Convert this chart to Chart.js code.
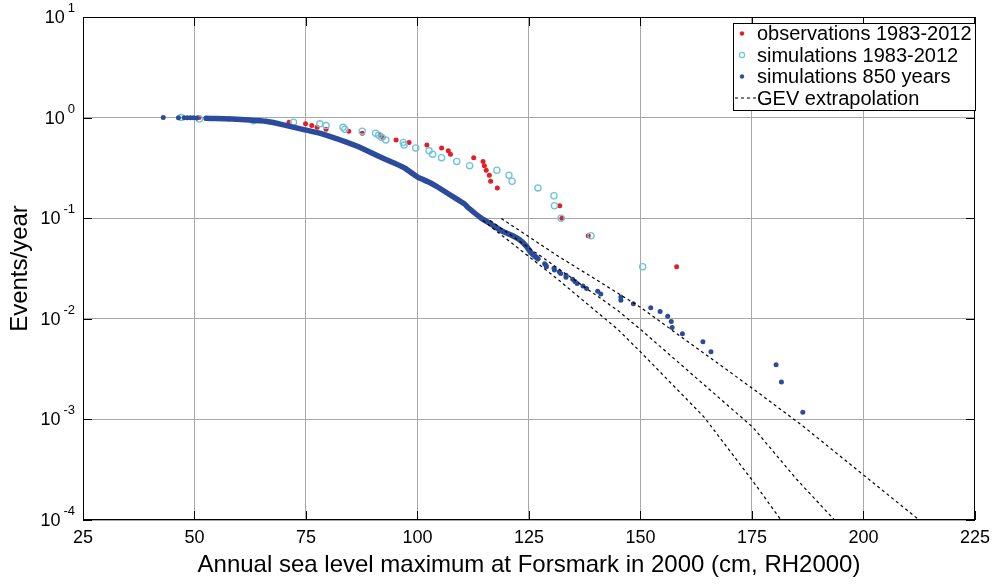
<!DOCTYPE html>
<html>
<head>
<meta charset="utf-8">
<script src="https://cdn.jsdelivr.net/npm/chart.js@4.4.0/dist/chart.umd.min.js"></script>
<style>
  html, body { margin: 0; padding: 0; background: #fff; }
  #wrap { width: 997px; height: 584px; position: relative; }
</style>
</head>
<body>
<div id="wrap"><canvas id="grafico"></canvas></div>
<script>
// axis ticks
var xTicks = [25, 50, 75, 100, 125, 150, 175, 200, 225];
var yTicks = [1e-4, 1e-3, 1e-2, 1e-1, 1, 10];
var yExp = ["-4", "-3", "-2", "-1", "0", "1"];

// observations 1983-2012 (cm, events/year)
var obsX = [158.1, 138.3, 132.4, 131.9, 117.9, 116.4, 116.1, 115.4, 115.0, 114.7,
  112.6, 107.4, 106.9, 105.4, 102.1, 98.1, 95.2, 92.3, 91.7, 87.6,
  84.6, 79.5, 77.5, 76.3, 74.9, 71.2, 64.5, 57.8, 51.0];
var obsY = [0.033, 0.067, 0.100, 0.133, 0.200, 0.233, 0.267, 0.300, 0.333, 0.367,
  0.400, 0.433, 0.467, 0.500, 0.533, 0.567, 0.600, 0.633, 0.667, 0.700,
  0.733, 0.767, 0.800, 0.833, 0.867, 0.900, 0.933, 0.967, 1.000];

// simulations 1983-2012
var sim30X = [150.5, 138.9, 132.2, 130.7, 130.6, 127.0, 121.2, 120.5, 117.8, 111.7,
  108.8, 105.4, 103.4, 102.6, 99.6, 97.0, 96.8, 92.9, 92.0, 91.3,
  90.6, 87.6, 83.7, 83.3, 79.5, 78.1, 72.2, 63.2, 51.1, 47.0];
var sim30Y = [0.033, 0.067, 0.100, 0.133, 0.167, 0.200, 0.233, 0.267, 0.300, 0.333,
  0.367, 0.400, 0.433, 0.467, 0.500, 0.533, 0.567, 0.600, 0.633, 0.667,
  0.700, 0.733, 0.767, 0.800, 0.833, 0.867, 0.900, 0.933, 0.967, 1.000];

// simulations 850 years: dense part of the curve
var denseX = [52.6, 54.8, 58.5, 62.3, 66.0, 69.7, 74.5, 78.6, 83.9, 86.8,
  91.3, 95.0, 97.3, 98.0, 99.5, 100.2, 102.5, 104.7, 107.7, 110.6,
  111.4, 114.4, 116.6, 118.8, 121.0, 122.9, 124.4, 125.5, 127.0];
var denseY = [0.984, 0.977, 0.970, 0.948, 0.919, 0.852, 0.760, 0.689, 0.574, 0.512,
  0.413, 0.349, 0.312, 0.296, 0.266, 0.254, 0.229, 0.202, 0.166, 0.138,
  0.127, 0.0993, 0.0866, 0.0750, 0.0680, 0.0610, 0.0527, 0.0453, 0.0395];

// simulations 850 years: single points (low end and tail)
var sim850X = [43.0, 46.4, 47.7, 48.4, 49.1, 49.8, 50.5,
  128.5, 128.8, 128.9, 130.6, 130.7, 131.8, 132.1, 133.3, 133.3, 134.8,
  135.3, 135.8, 137.1, 137.9, 140.4, 141.1, 145.6, 145.6, 148.4, 152.3,
  154.4, 156.1, 156.9, 157.1, 159.4, 164.0, 165.8, 180.4, 181.6, 186.4];
var sim850Y = [1.000, 0.9988, 0.9976, 0.9965, 0.9953, 0.9941, 0.9929,
  0.0353, 0.0341, 0.0329, 0.0318, 0.0306, 0.0294, 0.0282, 0.0271, 0.0259, 0.0247,
  0.0235, 0.0224, 0.0212, 0.0200, 0.0188, 0.0176, 0.0165, 0.0153, 0.0141, 0.0129,
  0.0118, 0.0106, 0.0094, 0.0082, 0.0071, 0.0059, 0.0047, 0.0035, 0.00235, 0.00118];

// GEV extrapolation, three curves
var gevUpX = [118.8, 131.5, 140.0, 150.0, 175.4, 186.4, 212.5];
var gevUpY = [0.0993, 0.042, 0.0246, 0.0130, 0.00199, 0.00086, 0.0001];
var gevMidX = [116.3, 144.9, 150.0, 175.2, 185.0, 193.5];
var gevMidY = [0.0948, 0.0121, 0.00785, 0.000835, 0.000254, 0.0001];
var gevLowX = [114.7, 131.5, 144.9, 150.0, 164.3, 175.4, 181.5];
var gevLowY = [0.0948, 0.0246, 0.00785, 0.00469, 0.00105, 0.000237, 0.0001];

var red = "#e41e26";
var cyan = "#6ec5dc";
var blue = "#2b4c9c";
var fonte = "'Liberation Sans', Arial, Helvetica, sans-serif";

function pares(xs, ys) {
  return xs.map(function (x, i) { return { x: x, y: ys[i] }; });
}

function gev(xs, ys) {
  return {
    label: "GEV extrapolation",
    data: pares(xs, ys),
    showLine: true,
    borderColor: "#000",
    borderWidth: 1.2,
    borderDash: [3, 3],
    pointRadius: 0,
    order: 1
  };
}

// frame, inside ticks, y labels with exponents, legend box
var moldura = {
  id: "moldura",
  afterDraw: function (chart) {
    var c = chart.ctx;
    var a = chart.chartArea;
    var sx = chart.scales.x, sy = chart.scales.y;
    c.save();
    c.strokeStyle = "#000";
    c.lineWidth = 1;
    c.strokeRect(a.left + 0.5, a.top + 0.5, a.right - a.left - 1, a.bottom - a.top - 1);
    c.beginPath();
    xTicks.forEach(function (v) {
      var px = Math.round(sx.getPixelForValue(v)) + 0.5;
      c.moveTo(px, a.bottom); c.lineTo(px, a.bottom - 9);
      c.moveTo(px, a.top); c.lineTo(px, a.top + 9);
    });
    yTicks.forEach(function (v) {
      var py = Math.round(sy.getPixelForValue(v)) + 0.5;
      c.moveTo(a.left, py); c.lineTo(a.left + 9, py);
      c.moveTo(a.right, py); c.lineTo(a.right - 9, py);
    });
    c.stroke();

    c.fillStyle = "#000";
    yTicks.forEach(function (v, i) {
      var py = sy.getPixelForValue(v);
      c.font = "13px " + fonte;
      var w = c.measureText(yExp[i]).width;
      var supX = 75 - w;
      c.textAlign = "left";
      c.textBaseline = "alphabetic";
      c.fillText(yExp[i], supX, py - 5);
      c.font = "18px " + fonte;
      c.textAlign = "right";
      c.textBaseline = "middle";
      c.fillText("10", supX - 3, py + 1);
    });

    // legend
    var bx = 733, by = 23, bw = 242, bh = 87;
    c.fillStyle = "#fff";
    c.fillRect(bx, by, bw, bh);
    c.strokeStyle = "#000";
    c.strokeRect(bx + 0.5, by + 0.5, bw, bh);
    var rows = [33.5, 55, 76.5, 98];
    var nomes = chart.data.datasets;
    c.font = "20px " + fonte;
    c.textAlign = "left";
    c.textBaseline = "middle";
    c.fillStyle = "#000";
    [0, 1, 2, 4].forEach(function (d, i) {
      c.fillText(nomes[d].label, 757, rows[i] + 1);
    });
    c.beginPath();
    c.fillStyle = red;
    c.arc(742, rows[0], 2.2, 0, Math.PI * 2);
    c.fill();
    c.beginPath();
    c.strokeStyle = cyan;
    c.lineWidth = 1.2;
    c.arc(742, rows[1], 2.6, 0, Math.PI * 2);
    c.stroke();
    c.beginPath();
    c.fillStyle = blue;
    c.arc(742, rows[2], 2.2, 0, Math.PI * 2);
    c.fill();
    c.beginPath();
    c.strokeStyle = "#000";
    c.lineWidth = 1.2;
    c.setLineDash([3, 3]);
    c.moveTo(735, rows[3]); c.lineTo(756, rows[3]);
    c.stroke();
    c.restore();
  }
};

var ctx = document.getElementById("grafico").getContext("2d");
var chart = new Chart(ctx, {
  type: "scatter",
  data: {
    datasets: [
      {
        label: "observations 1983-2012",
        data: pares(obsX, obsY),
        backgroundColor: red,
        borderWidth: 0,
        pointRadius: 2.5,
        order: 4
      },
      {
        label: "simulations 1983-2012",
        data: pares(sim30X, sim30Y),
        backgroundColor: "rgba(0,0,0,0)",
        borderColor: cyan,
        borderWidth: 1.3,
        pointRadius: 3.1,
        order: 3
      },
      {
        label: "simulations 850 years",
        data: pares(sim850X, sim850Y),
        backgroundColor: blue,
        borderWidth: 0,
        pointRadius: 2.5,
        order: 2
      },
      {
        label: "simulations 850 years",
        data: pares(denseX, denseY),
        showLine: true,
        borderColor: blue,
        borderWidth: 5.5,
        borderCapStyle: "round",
        borderJoinStyle: "round",
        tension: 0.1,
        pointRadius: 0,
        order: 2
      },
      gev(gevUpX, gevUpY),
      gev(gevMidX, gevMidY),
      gev(gevLowX, gevLowY)
    ]
  },
  options: {
    responsive: true,
    maintainAspectRatio: false,
    animation: false,
    layout: { padding: { top: 17, right: 18, left: 0, bottom: 0 } },
    plugins: {
      legend: { display: false },
      tooltip: { enabled: false }
    },
    scales: {
      x: {
        type: "linear",
        min: 25,
        max: 225,
        afterBuildTicks: function (s) { s.ticks = xTicks.map(function (v) { return { value: v }; }); },
        afterFit: function (s) { s.height = 64; },
        grid: { color: "#a8a8a8", lineWidth: 1, drawTicks: false },
        border: { display: false },
        ticks: { color: "#000", font: { size: 18, family: fonte }, padding: 7 },
        title: {
          display: true,
          text: "Annual sea level maximum at Forsmark in 2000 (cm, RH2000)",
          color: "#000",
          font: { size: 24, family: fonte },
          padding: { top: 0, bottom: 4 }
        }
      },
      y: {
        type: "logarithmic",
        min: 1e-4,
        max: 10,
        afterBuildTicks: function (s) { s.ticks = yTicks.map(function (v) { return { value: v }; }); },
        afterFit: function (s) { s.width = 83; },
        grid: { color: "#a8a8a8", lineWidth: 1, drawTicks: false },
        border: { display: false },
        ticks: { display: false },
        title: {
          display: true,
          text: "Events/year",
          color: "#000",
          font: { size: 24, family: fonte },
          padding: { top: 6, bottom: 0 }
        }
      }
    }
  },
  plugins: [moldura]
});
</script>
</body>
</html>
